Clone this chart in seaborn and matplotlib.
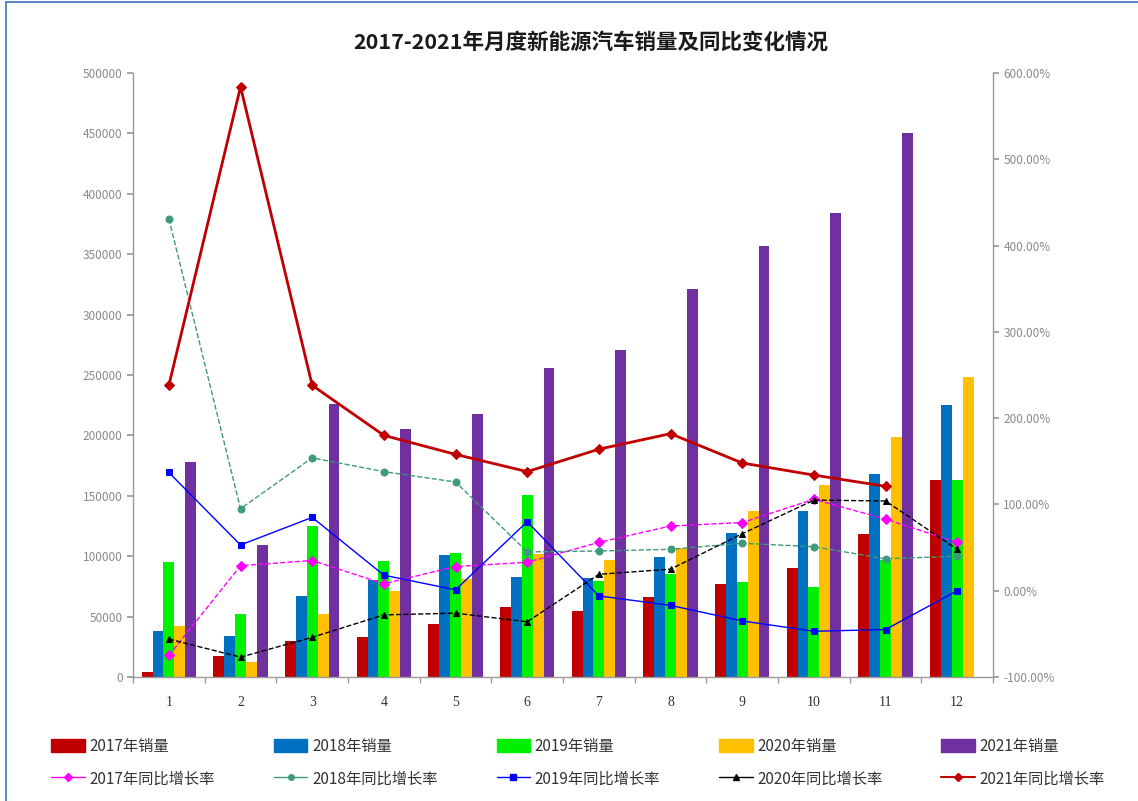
import numpy as np
import pandas as pd
import matplotlib
matplotlib.use('Agg')
import matplotlib.pyplot as plt
import seaborn as sns
from matplotlib.lines import Line2D
from matplotlib.ticker import FuncFormatter, MultipleLocator

# data
months = [str(m) for m in range(1, 13)]
years = ['2017', '2018', '2019', '2020', '2021']

sales_2017 = [4400, 17000, 30000, 33000, 44000, 57600, 54600, 66500, 76700, 90000, 118000, 163000]
sales_2018 = [38000, 34000, 67000, 80700, 101000, 82700, 81700, 99300, 119500, 137000, 168000, 225000]
sales_2019 = [95600, 52000, 125000, 96000, 103000, 151000, 79500, 85500, 78600, 74600, 96600, 163000]
sales_2020 = [42400, 12200, 52000, 71000, 81000, 102000, 96600, 107000, 137000, 159000, 199000, 248000]
sales_2021 = [178000, 109000, 226000, 205000, 218000, 256000, 271000, 321000, 357000, 384000, 450000, np.nan]

yoy_2017 = [-75, 29, 35, 8, 28, 33, 56, 75, 79, 106, 83, 56]
yoy_2018 = [431, 95, 154, 138, 126, 45, 46, 48, 55, 51, 37, 40]
yoy_2019 = [137, 53, 85, 18, 1, 80, -6, -17, -35, -47, -45, 0]
yoy_2020 = [-56, -77, -54, -28, -26, -36, 19, 25, 66, 105, 104, 48]
yoy_2021 = [238, 584, 238, 180, 158, 138, 164, 182, 148, 134, 121, np.nan]

bar_colors = ['#C00000', '#0070C0', '#00F000', '#FFC000', '#7030A0']
line_colors = ['#FF00FF', '#3E9A78', '#0000FF', '#000000', '#C00000']
line_markers = ['D', 'o', 's', '^', 'D']
line_styles = ['--', '--', '-', '--', '-']

sales = [sales_2017, sales_2018, sales_2019, sales_2020, sales_2021]
yoys = [yoy_2017, yoy_2018, yoy_2019, yoy_2020, yoy_2021]

df = pd.DataFrame({
    'month': months * 5,
    'year': [y for y in years for _ in months],
    'sales': [v for s in sales for v in s],
})

sns.set_theme(style='white')
plt.rcParams['font.family'] = ['Noto Sans CJK SC', 'DejaVu Sans']
plt.rcParams['axes.unicode_minus'] = False

fig = plt.figure(figsize=(11.38, 8.01), dpi=100)
ax = fig.add_axes([0.1169, 0.1548, 0.7557, 0.7541])

sns.barplot(data=df, x='month', y='sales', hue='year', order=months, hue_order=years,
            palette=bar_colors, width=0.76, saturation=1, ax=ax, legend=False,
            edgecolor='none', linewidth=0)

ax2 = ax.twinx()
x_pos = np.arange(len(months))
for i, y in enumerate(years):
    lw = 2 if y == '2021' else 1
    sns.lineplot(x=x_pos, y=yoys[i], ax=ax2, color=line_colors[i], marker=line_markers[i],
                 markersize=5, markeredgecolor=line_colors[i], linewidth=lw,
                 linestyle=line_styles[i], legend=False)

ax.set_ylim(0, 500000)
ax.yaxis.set_major_locator(MultipleLocator(50000))
ax2.set_ylim(-100, 600)
ax2.yaxis.set_major_locator(MultipleLocator(100))
ax2.yaxis.set_major_formatter(FuncFormatter(lambda v, p: f'{v:.2f}%'))
ax.set_xlim(-0.5, 11.5)

ax.set_xlabel('')
ax.set_ylabel('')
ax2.set_ylabel('')

for a in (ax, ax2):
    for s in a.spines.values():
        s.set_visible(False)
ax.spines['left'].set_visible(True)
ax.spines['bottom'].set_visible(True)
ax2.spines['right'].set_visible(True)
for s in (ax.spines['left'], ax.spines['bottom'], ax2.spines['right']):
    s.set_color('#9a9a9a')
    s.set_linewidth(1)

ax.tick_params(axis='y', left=True, length=4, color='#9a9a9a', labelsize=8.5, labelcolor='#8a8a8a')
ax.tick_params(axis='x', bottom=False, labelsize=10, labelcolor='#333333', pad=8)
ax2.tick_params(axis='y', right=True, length=4, color='#9a9a9a', labelsize=8.5, labelcolor='#8a8a8a')
for lab in ax.get_xticklabels():
    lab.set_family('Liberation Serif')

# small ticks at category boundaries
ax.set_xticks(np.arange(-0.5, 12, 1), minor=True)
ax.tick_params(axis='x', which='minor', bottom=True, length=4, color='#9a9a9a')

fig.text(0.519, 0.947, '2017-2021年月度新能源汽车销量及同比变化情况',
         ha='center', va='center', fontsize=15.5, fontweight='bold', color='#1a1a1a')

# legend: bars on the first row, lines on the second
handles, labels = [], []
for i, y in enumerate(years):
    handles.append(plt.Rectangle((0, 0), 1, 1, color=bar_colors[i]))
    labels.append(f'{y}年销量')
    handles.append(Line2D([0], [0], color=line_colors[i], marker=line_markers[i],
                          markersize=4, linewidth=1.5 if y == '2021' else 1))
    labels.append(f'{y}年同比增长率')

fig.legend(handles, labels, ncol=5, loc='lower left', bbox_to_anchor=(0.033, 0.0, 0.95, 0.11),
           mode='expand', frameon=False, fontsize=11, handlelength=2.2, handleheight=0.9,
           handletextpad=0.3, labelspacing=1.0, columnspacing=1.0, labelcolor='#333333')

# blue frame edges of the screenshot
fig.add_artist(Line2D([0.005, 0.005], [0, 0.997], transform=fig.transFigure, color='#4472C4', lw=1.2))
fig.add_artist(Line2D([0.005, 1.0], [0.997, 0.997], transform=fig.transFigure, color='#4472C4', lw=1.2))

fig.savefig('out.png', dpi=100)
